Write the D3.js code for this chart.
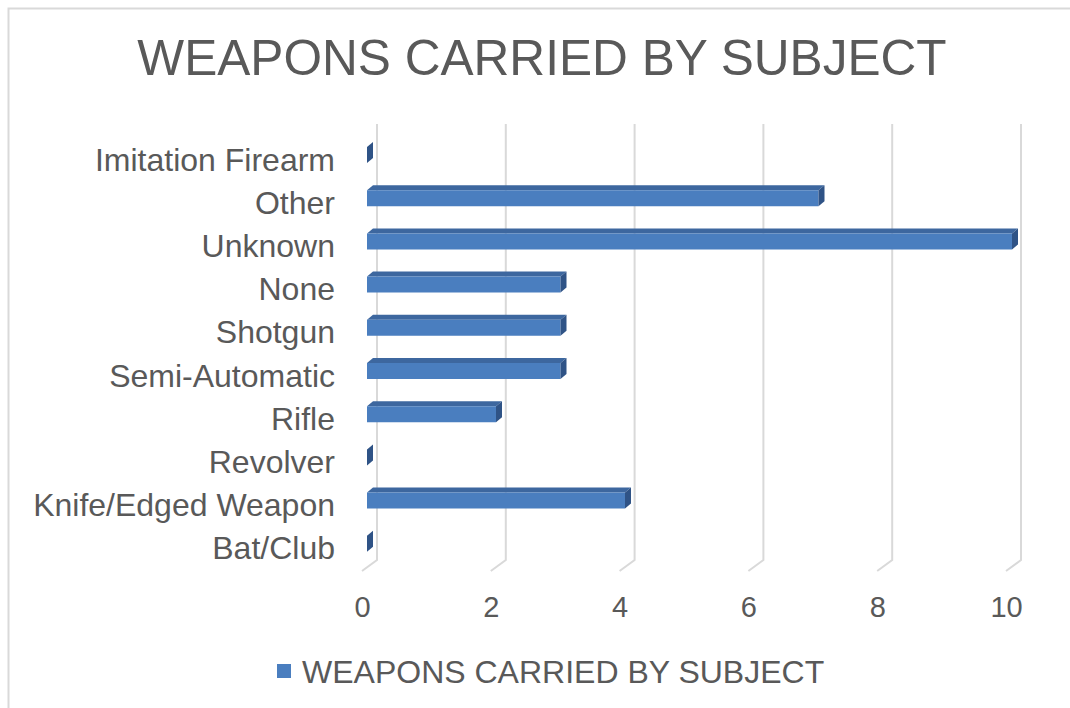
<!DOCTYPE html>
<html>
<head>
<meta charset="utf-8">
<script src="https://cdn.jsdelivr.net/npm/d3@7"></script>
<style>
  html, body { margin: 0; padding: 0; background: #fff; overflow: hidden; }
  svg { display: block; font-family: "Liberation Sans", Arial, sans-serif; }
</style>
</head>
<body>
<div id="chart"></div>
<script>
// Data (top to bottom as shown)
const categories = ['Imitation Firearm', 'Other', 'Unknown', 'None', 'Shotgun',
  'Semi-Automatic', 'Rifle', 'Revolver', 'Knife/Edged Weapon', 'Bat/Club'];
const values = [0, 7, 10, 3, 3, 3, 2, 0, 4, 0];
const ticks = [0, 2, 4, 6, 8, 10];
const seriesName = 'WEAPONS CARRIED BY SUBJECT';
const chartTitle = 'WEAPONS CARRIED BY SUBJECT';

const width = 1070, height = 708;
const textColor = '#595959';
const gridColor = '#d9d9d9';

const svg = d3.select('#chart').append('svg')
  .attr('width', width).attr('height', height)
  .style('overflow', 'hidden');

// Chart border (runs off the right/bottom of the picture)
svg.append('rect')
  .attr('x', 8.5).attr('y', 8.5)
  .attr('width', width + 40).attr('height', height + 40)
  .attr('fill', '#fff').attr('stroke', gridColor).attr('stroke-width', 2);

// Scales: back wall, front floor edge, and bar front plane
const xBack = d3.scaleLinear().domain([0, 10]).range([377, 1021]);
const xFront = d3.scaleLinear().domain([0, 10]).range([362, 1006]);
const xBar = d3.scaleLinear().domain([0, 10]).range([367, 1012]);
const y = d3.scaleBand().domain(categories).range([137.4, 569.4]);

const wallTop = 124, wallBottom = 560, floorFront = 571;
const depthX = 6, depthY = -5;

// Gridlines: vertical on back wall, diagonal on floor
const grid = svg.append('g').attr('class', 'grid')
  .attr('fill', 'none').attr('stroke', gridColor).attr('stroke-width', 2);
grid.selectAll('path').data(ticks).enter().append('path')
  .attr('d', d => `M${xBack(d)},${wallTop} L${xBack(d)},${wallBottom} L${xFront(d)},${floorFront}`);

// Bars (3D boxes)
const bars = svg.append('g').attr('class', 'bars')
  .selectAll('g').data(categories.map((c, i) => ({ c, v: values[i] })))
  .enter().append('g');

function faceTop(d) {
  const x0 = xBar(0), x1 = xBar(d.v), yt = y(d.c) + y.bandwidth() / 2 - 12;
  return `M${x0},${yt} L${x1},${yt} L${x1 + depthX},${yt + depthY} L${x0 + depthX},${yt + depthY}Z`;
}
function faceFront(d) {
  const x0 = xBar(0), x1 = xBar(d.v), yt = y(d.c) + y.bandwidth() / 2 - 12;
  return `M${x0},${yt} L${x1},${yt} L${x1},${yt + 16} L${x0},${yt + 16}Z`;
}
function faceSide(d) {
  const x1 = xBar(d.v), yt = y(d.c) + y.bandwidth() / 2 - 12;
  return `M${x1},${yt} L${x1 + depthX},${yt + depthY} L${x1 + depthX},${yt + 16 + depthY} L${x1},${yt + 16}Z`;
}

bars.append('path').attr('d', faceTop).attr('fill', '#3d679f');
bars.append('path').attr('d', faceFront).attr('fill', '#4a7ebf');
bars.append('path').attr('d', faceSide).attr('fill', '#2f5386');

// Category labels
const yAxis = svg.append('g')
  .attr('transform', 'translate(335,0)')
  .call(d3.axisLeft(y).tickSize(0).tickPadding(0));
yAxis.select('.domain').remove();
yAxis.selectAll('text')
  .attr('fill', textColor).attr('font-size', '32px')
  .attr('font-family', '"Liberation Sans", Arial, sans-serif')
  .attr('dy', '0.36em');

// Value tick labels along the front edge
const xAxis = svg.append('g')
  .attr('transform', 'translate(0,591)')
  .call(d3.axisBottom(xFront).tickValues(ticks).tickSize(0).tickPadding(0));
xAxis.select('.domain').remove();
xAxis.selectAll('text')
  .attr('fill', textColor).attr('font-size', '29px')
  .attr('font-family', '"Liberation Sans", Arial, sans-serif')
  .attr('dy', '0.9em');

// Title
svg.append('text')
  .attr('x', 542).attr('y', 75)
  .attr('text-anchor', 'middle')
  .attr('fill', textColor).attr('font-size', '49.6px')
  .text(chartTitle);

// Legend
svg.append('rect')
  .attr('x', 277).attr('y', 664).attr('width', 14).attr('height', 14)
  .attr('fill', '#4a7ebf');
svg.append('text')
  .attr('x', 302).attr('y', 683)
  .attr('fill', textColor).attr('font-size', '32px')
  .text(seriesName);
</script>
</body>
</html>
